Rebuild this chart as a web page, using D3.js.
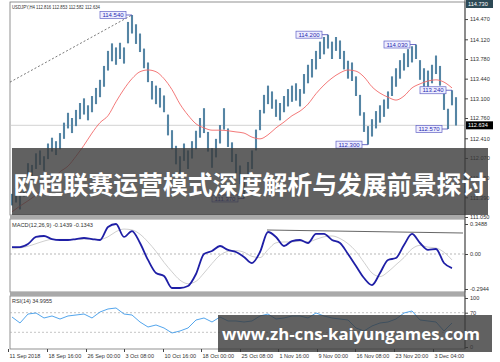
<!DOCTYPE html>
<html>
<head>
<meta charset="utf-8">
<script src="https://cdn.jsdelivr.net/npm/d3@7"></script>
<style>
  body { margin: 0; background: #fff; }
  svg { display: block; }
</style>
</head>
<body>
<div id="chart"></div>
<script>
// --- CONFIGURATION ---
const WIDTH = 500;
const HEIGHT = 362;
const PLOT = { left: 10, right: 465 };
const PANELS = {
    main: { top: 2, bottom: 215 },
    macd: { top: 219, bottom: 292 },
    rsi: { top: 296, bottom: 349 }
};

// --- DATA ---
// USDJPY H4 bars, high / low per bar
const barHigh = [
    111.45, 111.55, 111.50, 111.78, 111.98, 111.95, 112.15, 112.20, 112.10, 112.32,
    112.42, 112.36, 112.50, 112.68, 112.85, 112.76, 112.90, 113.02, 113.10, 112.98,
    113.14, 113.28, 113.42, 113.66, 113.92, 114.05, 113.98, 114.06, 113.98, 114.42,
    114.54, 114.38, 114.22, 113.96, 113.72, 113.40, 113.32, 113.28, 113.15, 112.82,
    112.55, 112.28, 112.10, 112.32, 112.20, 112.36, 112.54, 112.76, 112.93, 112.52,
    112.24, 112.40, 112.64, 112.93, 112.58, 112.34, 112.14, 111.94, 111.76, 112.00,
    112.20, 112.56, 112.90, 113.16, 113.32, 113.22, 113.08, 113.02, 113.14, 113.26,
    113.32, 113.36, 113.26, 113.52, 113.68, 113.78, 113.92, 114.08, 114.16, 114.20,
    114.08, 114.16, 114.10, 113.92, 113.75, 113.72, 113.48, 113.16, 112.86, 112.62,
    112.74, 112.88, 112.98, 113.08, 113.22, 113.48, 113.62, 113.76, 113.88, 113.95,
    114.00, 114.03, 113.76, 113.62, 113.58, 113.68, 113.84, 113.66, 113.24, 112.92,
    113.24, 113.12
];
const barLow = [
    111.25, 111.30, 111.18, 111.40, 111.70, 111.66, 111.88, 111.95, 111.85, 112.05,
    112.18, 112.12, 112.22, 112.40, 112.58, 112.50, 112.62, 112.74, 112.82, 112.72,
    112.86, 113.00, 113.12, 113.30, 113.58, 113.74, 113.68, 113.78, 113.70, 114.05,
    114.22, 114.04, 113.90, 113.62, 113.38, 113.08, 113.00, 112.94, 112.86, 112.46,
    112.22, 111.96, 111.80, 112.02, 111.88, 112.06, 112.22, 112.42, 112.50, 112.18,
    111.90, 112.08, 112.32, 112.56, 112.26, 112.00, 111.80, 111.62, 111.37, 111.66,
    111.88, 112.20, 112.55, 112.84, 113.00, 112.92, 112.78, 112.72, 112.86, 112.96,
    113.04, 113.06, 112.96, 113.18, 113.36, 113.46, 113.60, 113.78, 113.86, 113.96,
    113.78, 113.92, 113.78, 113.60, 113.44, 113.40, 113.14, 112.80, 112.52, 112.30,
    112.44, 112.58, 112.68, 112.78, 112.92, 113.14, 113.30, 113.44, 113.58, 113.64,
    113.72, 113.78, 113.42, 113.30, 113.26, 113.36, 113.52, 113.32, 112.90, 112.57,
    112.98, 112.63
];
const lastClose = 112.634;
const topPrice = 114.730;

// indicators sampled every second bar
const sampleBars = d3.range(0, 112, 2);
const maValues = [
    111.14, 111.24, 111.33, 111.43, 111.55, 111.69, 111.83, 111.93, 112.10, 112.29,
    112.50, 112.68, 112.80, 113.04, 113.26, 113.44, 113.56, 113.59, 113.56, 113.44,
    113.25, 113.00, 112.81, 112.66, 112.59, 112.55, 112.55, 112.54, 112.52, 112.50,
    112.43, 112.40, 112.47, 112.59, 112.69, 112.80, 112.88, 113.00, 113.18, 113.33,
    113.45, 113.54, 113.59, 113.57, 113.47, 113.30, 113.19, 113.12, 113.07, 113.14,
    113.28, 113.35, 113.40, 113.42, 113.38, 113.28
];
const macdMain = [
    0.081, 0.081, 0.116, 0.198, 0.209, 0.174, 0.163, 0.163, 0.174, 0.186,
    0.174, 0.163, 0.314, 0.349, 0.198, 0.267, 0.128, -0.050, -0.160, -0.185,
    -0.286, -0.286, -0.269, -0.168, 0.000, 0.035, 0.093, 0.047, 0.023, -0.025,
    -0.076, 0.023, 0.256, 0.198, 0.093, 0.151, 0.163, 0.128, 0.233, 0.233,
    0.163, 0.128, 0.000, -0.101, -0.202, -0.261, -0.160, -0.050, -0.034, 0.105,
    0.233, 0.128, 0.047, 0.058, -0.076, -0.118
];
const macdSignal = [
    0.06, 0.07, 0.09, 0.12, 0.15, 0.17, 0.17, 0.17, 0.17, 0.175,
    0.175, 0.17, 0.20, 0.26, 0.29, 0.28, 0.23, 0.14, 0.03, -0.07,
    -0.15, -0.22, -0.25, -0.23, -0.16, -0.08, -0.01, 0.03, 0.04, 0.02,
    -0.02, -0.03, 0.05, 0.13, 0.14, 0.14, 0.15, 0.14, 0.17, 0.20,
    0.21, 0.18, 0.12, 0.03, -0.07, -0.16, -0.19, -0.15, -0.09, -0.03,
    0.06, 0.10, 0.08, 0.07, 0.02, -0.05
];
const rsiValues = [
    61.2, 49.0, 67.3, 69.4, 59.2, 63.3, 57.1, 63.3, 65.3, 67.3,
    59.2, 71.4, 77.6, 79.6, 67.3, 65.3, 51.0, 40.8, 44.9, 38.8,
    28.6, 32.7, 38.8, 55.1, 59.2, 51.0, 61.2, 53.1, 53.1, 51.0,
    53.1, 63.3, 67.3, 57.1, 59.2, 63.3, 63.3, 59.2, 69.4, 63.3,
    59.2, 57.1, 55.1, 38.8, 32.7, 42.9, 49.0, 51.0, 57.1, 69.4,
    73.5, 55.1, 53.1, 51.0, 32.7, 49.0
];

// zigzag swing labels
const swingBars = [30, 79, 101, 110, 89, 109, 58];
const swingPrices = [114.540, 114.200, 114.030, 113.240, 112.300, 112.570, 111.370];

// trend lines (bar index, value)
const priceTrend = [[-0.5, 113.38], [30, 114.54]];
const macdTrend = [[63.75, 0.279], [112.75, 0.244]];

// axes
const priceTicks = [114.470, 114.120, 113.780, 113.440, 113.100, 112.760, 112.410, 112.070, 111.730, 111.390, 111.050];
const macdTicks = [0.3488, 0, -0.2944];
const macdTickText = ["0.3488", "0.00", "-0.2944"];
const rsiTicks = [100, 70, 30, 0];
const dateTickBars = [-1, 8.75, 18.5, 28, 37.75, 47.25, 57, 66.5, 76.25, 85.75, 95.5, 105.25];
const dateLabels = ["11 Sep 2018", "18 Sep 16:00", "26 Sep 00:00", "3 Oct 08:00", "10 Oct 16:00",
    "18 Oct 00:00", "25 Oct 08:00", "1 Nov 16:00", "9 Nov 00:00", "16 Nov 08:00",
    "23 Nov 20:00", "3 Dec 04:00"];

const TITLE = "欧超联赛运营模式深度解析与发展前景探讨";
const WATERMARK = "www.zh-cns-kaiyungames.com";

// --- SCALES ---
const x = d3.scaleLinear().domain([0, 111]).range([12, 456]);
const y = d3.scaleLinear().domain([111.05, 114.73]).range([217, 4]);
const yMacd = d3.scaleLinear().domain([-0.2944, 0, 0.3488]).range([289, 254, 224]);
const yRsi = d3.scaleLinear().domain([0, 100]).range([347, 298]);

const svg = d3.select("#chart")
    .append("svg")
    .attr("width", WIDTH)
    .attr("height", HEIGHT)
    .style("font-family", "'Liberation Sans', Arial, sans-serif");

svg.append("rect").attr("width", WIDTH).attr("height", HEIGHT).attr("fill", "#fff");

// panel frames + clip paths
const defs = svg.append("defs");
Object.entries(PANELS).forEach(([name, p]) => {
    defs.append("clipPath").attr("id", "clip-" + name)
        .append("rect")
        .attr("x", PLOT.left).attr("y", p.top)
        .attr("width", PLOT.right - PLOT.left).attr("height", p.bottom - p.top);
    svg.append("rect")
        .attr("x", PLOT.left).attr("y", p.top)
        .attr("width", PLOT.right - PLOT.left).attr("height", p.bottom - p.top)
        .attr("fill", "#fff").attr("stroke", "#777").attr("stroke-width", 0.8);
});

// separators between panels
[PANELS.main.bottom, PANELS.macd.bottom].forEach(top => {
    svg.append("rect")
        .attr("x", PLOT.left).attr("y", top)
        .attr("width", PLOT.right - PLOT.left).attr("height", 4)
        .attr("fill", "#a9a9a9");
});

// --- MAIN PANEL ---
const main = svg.append("g").attr("clip-path", "url(#clip-main)");

// bid line
main.append("line")
    .attr("x1", PLOT.left).attr("x2", PLOT.right)
    .attr("y1", y(lastClose)).attr("y2", y(lastClose))
    .attr("stroke", "#c8c8c8").attr("stroke-width", 0.8);

// dashed trend line
main.append("line")
    .attr("x1", x(priceTrend[0][0])).attr("y1", y(priceTrend[0][1]))
    .attr("x2", x(priceTrend[1][0])).attr("y2", y(priceTrend[1][1]))
    .attr("stroke", "#555").attr("stroke-width", 0.8)
    .attr("stroke-dasharray", "2,2");

// price bars
main.selectAll("line.bar")
    .data(barHigh)
    .join("line")
    .attr("class", "bar")
    .attr("x1", (d, i) => x(i)).attr("x2", (d, i) => x(i))
    .attr("y1", d => y(d))
    .attr("y2", (d, i) => y(barLow[i]))
    .attr("stroke", "#5585a4")
    .attr("stroke-width", 2.1);

// moving average
const maLine = d3.line()
    .x((d, i) => x(sampleBars[i]))
    .y(d => y(d))
    .curve(d3.curveMonotoneX);
main.append("path")
    .attr("d", maLine(maValues))
    .attr("fill", "none")
    .attr("stroke", "#f26a6a")
    .attr("stroke-width", 0.9);

// swing labels
swingBars.forEach((b, i) => {
    const px = x(b), py = y(swingPrices[i]);
    const boxW = 26, boxH = 7;
    main.append("line")
        .attr("x1", px - 6).attr("x2", px)
        .attr("y1", py).attr("y2", py)
        .attr("stroke", "#4a4ab8").attr("stroke-width", 0.8);
    main.append("rect")
        .attr("x", px - 6 - boxW).attr("y", py - boxH / 2)
        .attr("width", boxW).attr("height", boxH)
        .attr("fill", "#eeeeff").attr("stroke", "#6262c6").attr("stroke-width", 0.7);
    main.append("text")
        .attr("x", px - 6 - boxW / 2).attr("y", py)
        .attr("dy", "0.35em")
        .attr("text-anchor", "middle")
        .attr("font-size", "6px")
        .attr("fill", "#2a2ab0")
        .text(d3.format(".3f")(swingPrices[i]));
});

// --- MACD PANEL ---
const macd = svg.append("g").attr("clip-path", "url(#clip-macd)");
macd.append("line")
    .attr("x1", PLOT.left).attr("x2", PLOT.right)
    .attr("y1", yMacd(0)).attr("y2", yMacd(0))
    .attr("stroke", "#999").attr("stroke-width", 0.7)
    .attr("stroke-dasharray", "2,2");
macd.append("line")
    .attr("x1", x(macdTrend[0][0])).attr("y1", yMacd(macdTrend[0][1]))
    .attr("x2", x(macdTrend[1][0])).attr("y2", yMacd(macdTrend[1][1]))
    .attr("stroke", "#555").attr("stroke-width", 0.9);

const macdLine = d3.line()
    .x((d, i) => x(sampleBars[i]))
    .y(d => yMacd(d))
    .curve(d3.curveMonotoneX);
macd.append("path")
    .attr("d", macdLine(macdSignal))
    .attr("fill", "none").attr("stroke", "#cfcfcf").attr("stroke-width", 1);
macd.append("path")
    .attr("d", macdLine(macdMain))
    .attr("fill", "none").attr("stroke", "#1f1fa6").attr("stroke-width", 1.8);

// --- RSI PANEL ---
const rsi = svg.append("g").attr("clip-path", "url(#clip-rsi)");
[70, 30].forEach(v => {
    rsi.append("line")
        .attr("x1", PLOT.left).attr("x2", PLOT.right)
        .attr("y1", yRsi(v)).attr("y2", yRsi(v))
        .attr("stroke", "#aaa").attr("stroke-width", 0.7)
        .attr("stroke-dasharray", "2,2");
});
const rsiLine = d3.line()
    .x((d, i) => x(sampleBars[i]))
    .y(d => yRsi(d));
rsi.append("path")
    .attr("d", rsiLine(rsiValues))
    .attr("fill", "none").attr("stroke", "#3f9bea").attr("stroke-width", 0.9);

// --- PANEL CAPTIONS ---
const caption = (txt, yy, len) => svg.append("text")
    .attr("x", 12).attr("y", yy)
    .attr("font-size", "5.5px").attr("fill", "#333")
    .attr("textLength", len).attr("lengthAdjust", "spacingAndGlyphs")
    .text(txt);
caption("USDJPY,H4  112.816 112.853 112.582 112.634", 9, 88);
caption("MACD(12,26,9) -0.1439 -0.1343", 227, 81);
caption("RSI(14) 34.9955", 303, 40);

// --- RIGHT AXES ---
svg.append("line")
    .attr("x1", PLOT.right).attr("x2", PLOT.right)
    .attr("y1", 0).attr("y2", PANELS.rsi.bottom)
    .attr("stroke", "#444").attr("stroke-width", 0.9);

function rightAxis(scale, ticks, fmt) {
    const g = svg.append("g")
        .attr("transform", `translate(${PLOT.right},0)`)
        .call(d3.axisRight(scale).tickValues(ticks).tickSize(3).tickPadding(2).tickFormat(fmt))
        .call(g => g.select(".domain").remove());
    g.selectAll("line").attr("stroke", "#444");
    g.selectAll("text")
        .attr("font-size", "5.6px")
        .attr("font-family", "'Liberation Sans', Arial, sans-serif")
        .attr("fill", "#333");
    return g;
}
rightAxis(y, priceTicks, d3.format(".3f"));
rightAxis(yMacd, macdTicks, (d, i) => macdTickText[i]);
rightAxis(yRsi, rsiTicks, d3.format("d"));

// price boxes on the axis
function priceBox(price, fill) {
    const py = y(price);
    svg.append("rect")
        .attr("x", PLOT.right + 1).attr("y", py - 4)
        .attr("width", 27).attr("height", 8)
        .attr("fill", fill);
    svg.append("text")
        .attr("x", PLOT.right + 3).attr("y", py)
        .attr("dy", "0.35em")
        .attr("font-size", "5.6px").attr("fill", "#fff")
        .text(d3.format(".3f")(price));
}
priceBox(lastClose, "#000");
priceBox(topPrice, "#2c4955");

// --- BOTTOM AXIS ---
const xAxis = svg.append("g")
    .attr("transform", `translate(0,${PANELS.rsi.bottom})`)
    .call(d3.axisBottom(x).tickValues(dateTickBars).tickSize(3).tickPadding(2)
        .tickFormat((d, i) => dateLabels[i]))
    .call(g => g.select(".domain").remove());
xAxis.selectAll("line").attr("stroke", "#444");
xAxis.selectAll("text")
    .attr("text-anchor", "start")
    .attr("dx", "1px")
    .attr("font-size", "5.5px")
    .attr("font-family", "'Liberation Sans', Arial, sans-serif")
    .attr("fill", "#333");

// --- OVERLAYS ---
svg.append("rect")
    .attr("x", 12).attr("y", 148)
    .attr("width", 476).attr("height", 67)
    .attr("fill", "#3a3a3a").attr("opacity", 0.8);

const title = svg.append("text")
    .attr("x", 250).attr("y", 185)
    .attr("dy", "0.36em")
    .attr("text-anchor", "middle")
    .attr("font-family", "'Noto Sans CJK SC', sans-serif")
    .attr("font-weight", "bold")
    .attr("font-size", "25px")
    .attr("fill", "#fff")
    .text(TITLE);
const tw = title.node().getComputedTextLength();
title.attr("font-size", (25 * 473 / tw).toFixed(2) + "px");

svg.append("rect")
    .attr("x", 218).attr("y", 315)
    .attr("width", 274).attr("height", 37)
    .attr("fill", "#3a3a3a").attr("opacity", 0.8);

const wm = svg.append("text")
    .attr("x", 351).attr("y", 334)
    .attr("dy", "0.35em")
    .attr("text-anchor", "middle")
    .attr("font-family", "'Open Sans', sans-serif")
    .attr("font-weight", "bold")
    .attr("font-size", "20px")
    .attr("fill", "#fff")
    .text(WATERMARK);
const ww = wm.node().getComputedTextLength();
wm.attr("font-size", (20 * 258 / ww).toFixed(2) + "px");
</script>
</body>
</html>
